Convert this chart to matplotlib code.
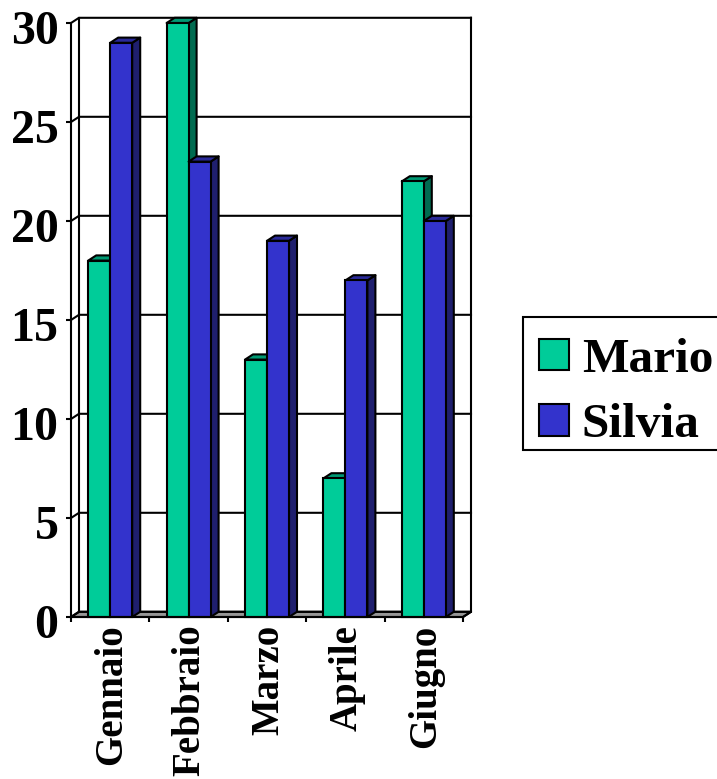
import numpy as np
from matplotlib import pyplot as plt
from matplotlib.patches import Patch, Polygon, Rectangle
from matplotlib.transforms import ScaledTranslation

plt.rcParams['font.family'] = ['Liberation Serif', 'DejaVu Serif']
plt.rcParams['font.weight'] = 'bold'

months = ['Gennaio', 'Febbraio', 'Marzo', 'Aprile', 'Giugno']
mario = [18, 30, 13, 7, 22]
silvia = [29, 23, 19, 17, 20]
y_ticks = [0, 5, 10, 15, 20, 25, 30]

W, H = 717, 779
LW = 1.5

fig = plt.figure(figsize=(W / 100, H / 100), dpi=100)
ax = fig.add_axes([71 / W, 1 - 617 / H, 392 / W, 594 / H])
ax.set_xlim(0, 5)
ax.set_ylim(0, 30)

# depth of the fake 3D box, in data units (8 px right, about 5 px up)
dx = 8 / (392 / 5)
dy = 5.2 / (594 / 30)


def poly(pts, fc, z):
    ax.add_patch(Polygon(pts, closed=True, facecolor=fc, edgecolor='black',
                         linewidth=LW, clip_on=False, zorder=z, joinstyle='round'))


# floor
poly([(0, 0), (dx, dy), (5 + dx, dy), (5, 0)], '#969696', 1)

# walls and gridlines
for v in y_ticks:
    ax.plot([0, dx, 5 + dx], [v, v + dy, v + dy], color='black', lw=LW,
            clip_on=False, zorder=1.5, solid_joinstyle='miter')
ax.plot([dx, dx], [dy, 30 + dy], color='black', lw=LW, clip_on=False, zorder=1.5)
ax.plot([5 + dx, 5 + dx, 5], [30 + dy, dy, 0], color='black', lw=LW,
        clip_on=False, zorder=1.5)


def bar_3d(x, h, w, front, side, top, z):
    poly([(x + w, 0), (x + w + dx, dy), (x + w + dx, h + dy), (x + w, h)], side, z)
    poly([(x, h), (x + dx, h + dy), (x + w + dx, h + dy), (x + w, h)], top, z)
    ax.bar(x, h, w, align='edge', color=front, edgecolor='black', linewidth=LW,
           clip_on=False, zorder=z + 0.1)


w = 22 / (392 / 5)
z = 2
for i in range(len(months)):
    c = i + 0.5
    bar_3d(c - w, mario[i], w, '#00CC99', '#006B50', '#009973', z)
    bar_3d(c, silvia[i], w, '#3333CC', '#1F1F6E', '#2A2A99', z + 0.2)
    z += 1

for s in ['top', 'right']:
    ax.spines[s].set_visible(False)
for s in ['left', 'bottom']:
    ax.spines[s].set_linewidth(LW)
    ax.spines[s].set_zorder(20)

ax.set_yticks(y_ticks)
ax.tick_params(axis='y', labelsize=34.5, length=3.5, width=LW, pad=5.5)
for lab in ax.get_yticklabels():
    lab.set_transform(lab.get_transform() + ScaledTranslation(0, -4 / 100, fig.dpi_scale_trans))

ax.set_xticks(np.arange(6))
ax.set_xticklabels([])
ax.set_xticks(np.arange(5) + 0.5, labels=months, minor=True, rotation=90)
ax.tick_params(axis='x', which='major', length=3.5, width=LW)
ax.tick_params(axis='x', which='minor', length=0, labelsize=28, pad=5.5)
for lab in ax.get_xticklabels(minor=True):
    lab.set_transform(lab.get_transform() + ScaledTranslation(1.5 / 100, 0, fig.dpi_scale_trans))

# legend box runs off the right edge of the picture
fig.add_artist(Rectangle((523 / W, 1 - 450 / H), 200 / W, 133 / H, transform=fig.transFigure,
                         facecolor='white', edgecolor='black', linewidth=LW, zorder=-1))

handles = [Patch(facecolor='#00CC99', edgecolor='black', linewidth=LW, label='Mario'),
           Patch(facecolor='#3333CC', edgecolor='black', linewidth=LW, label='Silvia')]
leg = ax.legend(handles=handles, loc='upper left',
                bbox_to_anchor=(523 / W, 1 - 322 / H), bbox_transform=fig.transFigure,
                borderaxespad=0, frameon=False,
                prop={'family': 'Liberation Serif', 'weight': 'bold', 'size': 35.5},
                handlelength=0.61, handleheight=0.61, handletextpad=0.26,
                labelspacing=0.44, borderpad=0.32)
leg.set_zorder(30)

fig.savefig('out.png', dpi=100)
